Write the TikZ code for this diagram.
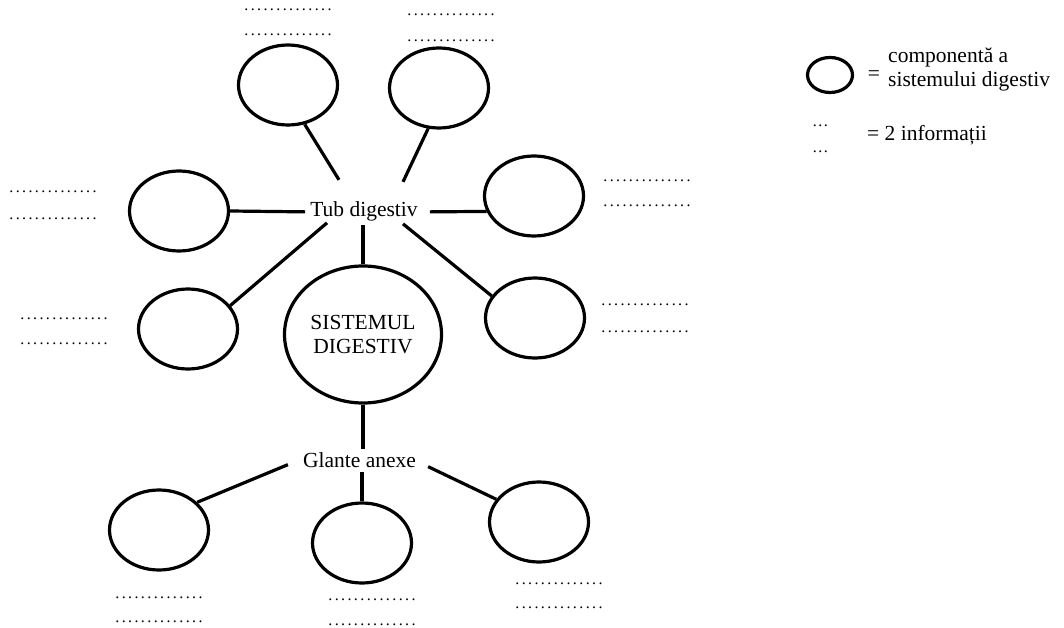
\documentclass[tikz,border=0pt]{standalone}
\usepackage{fontspec}
\setmainfont{Liberation Serif}
\usetikzlibrary{shapes.geometric,calc}
\newcommand\dd{\makebox[6.4pt]{.}}
\newcommand\dotline{\dd\dd\dd\dd\dd\dd\dd\dd\dd\dd\dd\dd\dd\dd}
\newcommand\ld{\makebox[5.5pt]{.}}
\begin{document}
\begin{tikzpicture}[x=1pt,y=-1pt,
  comp/.style={draw, ellipse, line width=3.2pt, minimum width=99pt, minimum height=80pt, inner sep=0pt},
  lbl/.style={font=\fontsize{21.5}{24}\selectfont, inner sep=0pt},
  dots/.style={font=\fontsize{16}{16}\selectfont, inner sep=0pt, anchor=base west},
  conn/.style={line width=3.2pt}]
\useasboundingbox[fill=white] (0,0) rectangle (1064,628);

% components
\node[comp] (tl) at (288,85) {};
\node[comp] (tr) at (439,88) {};
\node[comp] (l1) at (179,211) {};
\node[comp] (l2) at (188,329) {};
\node[comp] (r1) at (534,196) {};
\node[comp] (r2) at (535,318) {};
\node[comp] (bl) at (159,530) {};
\node[comp] (bm) at (362,543) {};
\node[comp] (br) at (539,522) {};
\node[comp, lbl, align=center, minimum width=157pt, minimum height=137pt] (sd) at (363,334.5) {SISTEMUL\\DIGESTIV};

% labels
\node[lbl, anchor=base] (tub) at (364,217) {Tub digestiv};
\node[lbl, anchor=base] (gl) at (359.5,467) {Glante anexe};

% connectors
\draw[conn] (tl.-67) -- ($(tub.center)+(-25,-32)$);
\draw[conn] (tr.-105) -- ($(tub.center)+(39,-30)$);
\draw[conn] (l1.east) -- ($(tub.west)+(-5,0)$);
\draw[conn] ($(tub.east)+(12,0)$) -- (r1.-162);
\draw[conn] (l2.29) -- ($(tub.center)+(-37,11)$);
\draw[conn] (r2.153) -- ($(tub.center)+(39,12)$);
\draw[conn] ($(tub.south -| sd.north)+(0,3)$) -- (sd.north);
\draw[conn] (sd.south) -- ($(gl.north -| sd.south)+(0,-3)$);
\draw[conn] ($(gl.south -| bm.north)+(0,5)$) -- (bm.north);
\draw[conn] (bl.36) -- ($(gl.west)+(-15,5)$);
\draw[conn] (br.152) -- ($(gl.east)+(12,7)$);

% dotted answer lines
\node[dots] (dtl1) at (243,11) {\dotline};
\node[dots] (dtl2) at (243,36) {\dotline};
\node[dots] (dtr1) at (406,16) {\dotline};
\node[dots] (dtr2) at (406,42) {\dotline};
\node[dots] (dl11) at (8,193) {\dotline};
\node[dots] (dl12) at (8,219) {\dotline};
\node[dots] (dl21) at (19,319) {\dotline};
\node[dots] (dl22) at (19,344) {\dotline};
\node[dots] (dr11) at (602,182) {\dotline};
\node[dots] (dr12) at (602,207) {\dotline};
\node[dots] (dr21) at (600,305) {\dotline};
\node[dots] (dr22) at (600,332) {\dotline};
\node[dots] (dbl1) at (114,598) {\dotline};
\node[dots] (dbl2) at (114,622) {\dotline};
\node[dots] (dbm1) at (327,600) {\dotline};
\node[dots] (dbm2) at (327,625) {\dotline};
\node[dots] (dbr1) at (514,584) {\dotline};
\node[dots] (dbr2) at (514,608) {\dotline};

% legend
\node[draw, ellipse, line width=3.2pt, minimum width=45pt, minimum height=35pt, inner sep=0pt] (lg) at (830,75) {};
\node[lbl] (eq1) at (874,76) {=};
\node[lbl, anchor=base west] (lgt1) at (888,63) {componentă a};
\node[lbl, anchor=base west] (lgt2) at (888,87) {sistemului digestiv};
\node[dots] (ld1) at (812,127) {\ld\ld\ld};
\node[dots] (ld2) at (812,153) {\ld\ld\ld};
\node[lbl, anchor=base west] (lgt3) at (867,141) {= 2 informații};
\end{tikzpicture}
\end{document}
